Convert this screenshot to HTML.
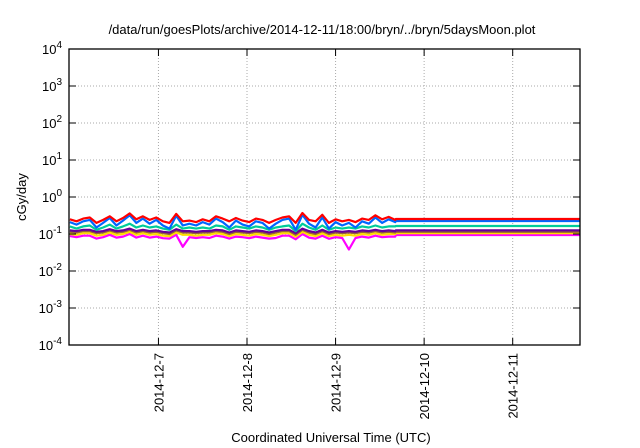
<!DOCTYPE html>
<html><head><meta charset="utf-8"><style>
body{margin:0;background:#fff}
svg{display:block;font-family:"Liberation Sans",sans-serif}
</style></head><body>
<svg id="chart" width="640" height="448" viewBox="0 0 640 448" xmlns="http://www.w3.org/2000/svg">
<rect width="640" height="448" fill="#fff"/>
<text x="322" y="34" font-size="13" text-anchor="middle" fill="#000">/data/run/goesPlots/archive/2014-12-11/18:00/bryn/../bryn/5daysMoon.plot</text>
<text x="331" y="442" font-size="13" text-anchor="middle" fill="#000">Coordinated Universal Time (UTC)</text>
<text transform="translate(26,197) rotate(-90)" font-size="13" text-anchor="middle" fill="#000">cGy/day</text>
<g id="grid"></g>
<g id="series"></g>
<g id="axes"></g>
</svg>
<script>
const yTickExps=[-4,-3,-2,-1,0,1,2,3,4];
const xTickDays=[7,8,9,10,11];
const xTickLabels=["2014-12-7","2014-12-8","2014-12-9","2014-12-10","2014-12-11"];
const seriesNames=["red","blue","green","purple","brown","yellow","magenta"];
const seriesColors=["#ff0000","#0066ff","#00cc99","#660099","#996633","#ffdd00","#ff00ff"];
const dataStart=6.0, dataStep=0.075;
const redVals=[0.25,0.22,0.26,0.28,0.2,0.24,0.3,0.22,0.27,0.36,0.25,0.3,0.24,0.28,0.22,0.2,0.35,0.22,0.23,0.21,0.25,0.22,0.3,0.26,0.22,0.27,0.23,0.21,0.26,0.24,0.2,0.24,0.28,0.3,0.2,0.37,0.24,0.22,0.33,0.2,0.25,0.22,0.24,0.21,0.26,0.24,0.32,0.25,0.29,0.24];
const blueVals=[0.21,0.18,0.22,0.24,0.15,0.2,0.27,0.17,0.23,0.32,0.2,0.26,0.19,0.24,0.17,0.14,0.31,0.17,0.19,0.17,0.21,0.18,0.26,0.21,0.15,0.23,0.18,0.16,0.22,0.2,0.14,0.19,0.24,0.26,0.13,0.33,0.19,0.15,0.28,0.14,0.21,0.17,0.2,0.15,0.22,0.19,0.28,0.2,0.25,0.21];
const greenVals=[0.16,0.14,0.16,0.17,0.13,0.15,0.18,0.14,0.16,0.19,0.15,0.17,0.15,0.16,0.14,0.13,0.18,0.14,0.15,0.14,0.15,0.14,0.17,0.16,0.13,0.16,0.15,0.14,0.16,0.15,0.13,0.15,0.16,0.17,0.12,0.19,0.15,0.13,0.17,0.13,0.15,0.14,0.15,0.14,0.16,0.15,0.17,0.15,0.16,0.16];
const purpleVals=[0.125,0.12,0.13,0.13,0.115,0.12,0.135,0.12,0.125,0.14,0.12,0.13,0.12,0.125,0.115,0.11,0.135,0.12,0.12,0.115,0.12,0.12,0.13,0.125,0.11,0.125,0.12,0.115,0.125,0.12,0.11,0.12,0.13,0.13,0.105,0.14,0.12,0.11,0.13,0.11,0.12,0.115,0.12,0.115,0.125,0.12,0.13,0.12,0.125,0.12];
const brownVals=[0.115,0.11,0.12,0.12,0.105,0.11,0.125,0.11,0.115,0.13,0.11,0.12,0.11,0.115,0.105,0.1,0.125,0.11,0.11,0.105,0.11,0.11,0.12,0.115,0.1,0.115,0.11,0.105,0.115,0.11,0.1,0.11,0.12,0.12,0.095,0.13,0.11,0.1,0.12,0.1,0.11,0.105,0.11,0.105,0.115,0.11,0.12,0.11,0.115,0.11];
const yellowVals=[0.1,0.095,0.105,0.105,0.09,0.095,0.11,0.095,0.1,0.115,0.095,0.105,0.095,0.1,0.09,0.088,0.11,0.095,0.095,0.09,0.095,0.095,0.105,0.1,0.088,0.1,0.095,0.09,0.1,0.095,0.088,0.095,0.105,0.105,0.085,0.115,0.095,0.088,0.105,0.088,0.095,0.09,0.095,0.09,0.1,0.095,0.105,0.095,0.1,0.1];
const magentaVals=[0.088,0.082,0.09,0.09,0.075,0.082,0.095,0.08,0.085,0.1,0.08,0.09,0.08,0.085,0.077,0.075,0.095,0.045,0.082,0.078,0.082,0.078,0.09,0.085,0.075,0.085,0.082,0.077,0.085,0.08,0.075,0.078,0.09,0.09,0.072,0.1,0.08,0.075,0.09,0.074,0.082,0.078,0.038,0.078,0.085,0.08,0.09,0.082,0.085,0.085];
const flatVals=[0.255,0.225,0.165,0.125,0.115,0.105,0.094];
const flatStart=9.68;
const allSeries=[redVals,blueVals,greenVals,purpleVals,brownVals,yellowVals,magentaVals];

const L=69,R=580,T=49,B=345,xMin=5.99,xMax=11.76;
const xS=d=>L+(d-xMin)/(xMax-xMin)*(R-L);
const yS=v=>B-(Math.log10(v)+4)/8*(B-T);
const NS="http://www.w3.org/2000/svg";
function mk(tag,attrs,parent){const e=document.createElementNS(NS,tag);for(const k in attrs)e.setAttribute(k,attrs[k]);parent.appendChild(e);return e;}
const grid=document.getElementById('grid'),axes=document.getElementById('axes'),ser=document.getElementById('series');

yTickExps.forEach(ex=>{
  const y=yS(Math.pow(10,ex));
  if(ex>-4&&ex<4){const g=mk('line',{x1:L,x2:R,y1:y,y2:y,stroke:'#aaa','stroke-width':1,'stroke-dasharray':'1,2'},grid);
  
  }
  const t1=mk('line',{x1:L,x2:L+7,y1:y,y2:y,stroke:'#000'},axes);
  
  
  mk('line',{x1:R-7,x2:R,y1:y,y2:y,stroke:'#000'},axes);
  const tx=mk('text',{x:L-7,y:y+5,'font-size':13,'text-anchor':'end',fill:'#000'},axes);
  
  
  const base=document.createElementNS(NS,'tspan');base.textContent='10';tx.appendChild(base);
  const sup=document.createElementNS(NS,'tspan');sup.setAttribute('dy','-6');sup.setAttribute('font-size','10');sup.textContent=String(ex);tx.appendChild(sup);
});
xTickDays.forEach((d,i)=>{
  const x=xS(d);
  const g=mk('line',{x1:x,x2:x,y1:T,y2:B,stroke:'#aaa','stroke-width':1,'stroke-dasharray':'1,2'},grid);
  
  
  mk('line',{x1:x,x2:x,y1:B,y2:B-7,stroke:'#000'},axes);
  mk('line',{x1:x,x2:x,y1:T,y2:T+7,stroke:'#000'},axes);
  const tx=mk('text',{transform:`translate(${x+5},353) rotate(-90)`,'font-size':13,'text-anchor':'end',fill:'#000'},axes);
  
  
  tx.textContent=xTickLabels[i];
});
const frame=mk('rect',{x:L,y:T,width:R-L,height:B-T,fill:'none',stroke:'#000','stroke-width':1.3},axes);



[6,5,4,3,2,1,0].forEach(si=>{
  const vals=allSeries[si];
  let pts=vals.map((v,i)=>xS(dataStart+i*dataStep).toFixed(1)+','+yS(v).toFixed(1));
  pts.push(xS(flatStart).toFixed(1)+','+yS(flatVals[si]).toFixed(1));
  pts.push(R+','+yS(flatVals[si]).toFixed(1));
  const p=mk('polyline',{points:pts.join(' '),fill:'none',stroke:seriesColors[si],'stroke-width':2.2,'stroke-linejoin':'round'},ser);
  
  
});
</script>
</body></html>
